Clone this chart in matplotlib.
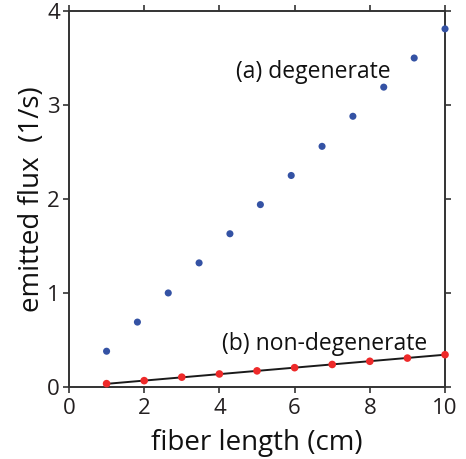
import matplotlib
matplotlib.use("Agg")
import matplotlib.pyplot as plt

# (a) degenerate
deg_x = [1.0, 1.82, 2.64, 3.46, 4.28, 5.09, 5.91, 6.73, 7.55, 8.37, 9.18, 10.0]
deg_y = [0.38, 0.69, 1.00, 1.32, 1.63, 1.94, 2.25, 2.56, 2.88, 3.19, 3.50, 3.81]

# (b) non-degenerate
nondeg_x = [1, 2, 3, 4, 5, 6, 7, 8, 9, 10]
nondeg_y = [0.035, 0.067, 0.104, 0.138, 0.171, 0.205, 0.239, 0.273, 0.307, 0.343]

# linear fit through the non-degenerate points
fit_x = [1, 10]
fit_y = [0.033, 0.343]

x_ticks = [0, 2, 4, 6, 8, 10]
y_ticks = [0, 1, 2, 3, 4]

plt.rcParams['font.family'] = ['Open Sans', 'DejaVu Sans']

fig = plt.figure(figsize=(4.66, 4.59), dpi=100)
ax = fig.add_axes([0.148, 0.157, 0.807, 0.819])

ax.plot(fit_x, fit_y, color='#1a1a1a', lw=1.4, zorder=2)
ax.scatter(deg_x, deg_y, s=26, color='#3452a4', edgecolors='none', zorder=3, clip_on=False)
ax.scatter(nondeg_x, nondeg_y, s=30, color='#ee2a2a', edgecolors='none', zorder=3, clip_on=False)

ax.text(4.44, 3.29, '(a) degenerate', fontsize=16.5, va='baseline', ha='left', color='#111111')
ax.text(4.07, 0.39, '(b) non-degenerate', fontsize=16.5, va='baseline', ha='left', color='#111111')

ax.set_xlim(0, 10)
ax.set_ylim(0, 4)
ax.set_xticks(x_ticks)
ax.set_yticks(y_ticks)
ax.tick_params(direction='out', length=4.5, width=1.2, labelsize=16, colors='#333333',
               labelcolor='#231f20', top=True, right=True, labeltop=False, labelright=False)
ax.tick_params(axis='x', pad=3.5)
ax.tick_params(axis='y', pad=2)
for side in ax.spines.values():
    side.set_linewidth(1.4)
    side.set_color('#333333')

ax.set_xlabel('fiber length (cm)', fontsize=20, labelpad=7, color='#111111')
ax.set_ylabel('emitted flux  (1/s)', fontsize=20, labelpad=1, color='#111111')

fig.savefig('out.png', dpi=100)
